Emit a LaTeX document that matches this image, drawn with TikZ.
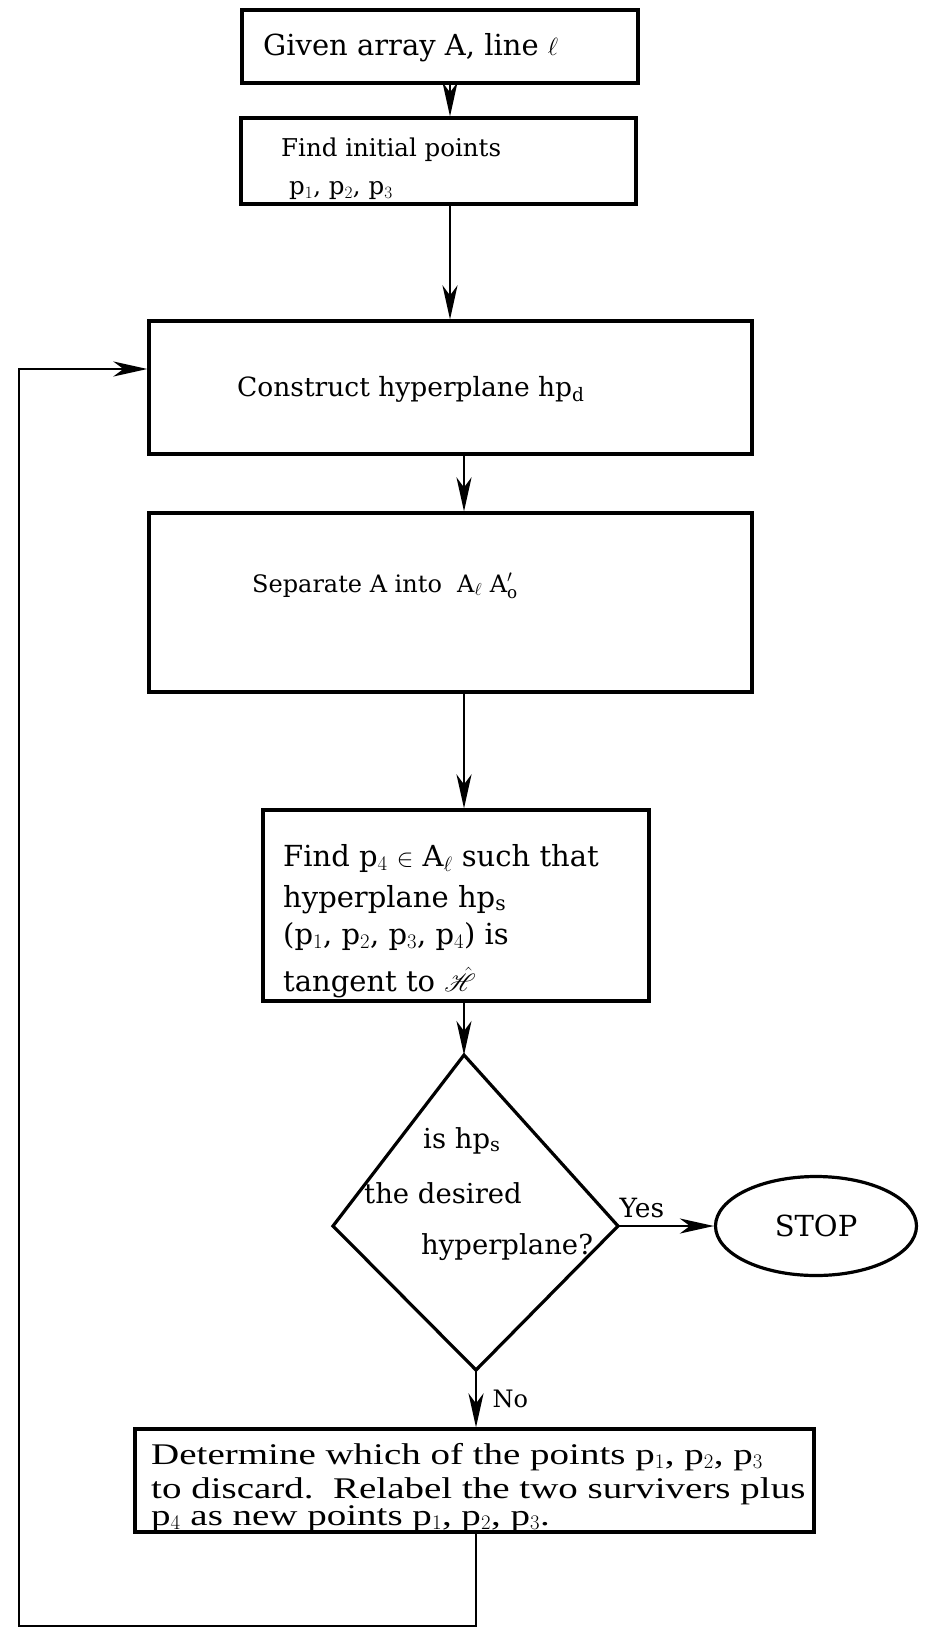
\documentclass[tikz,border=0pt]{standalone}
\usepackage{fontspec}
\setmainfont{DejaVu Serif}
\newfontfamily\timesfont[FakeStretch=1.3]{Liberation Serif}
\usepackage{mathrsfs}
\usetikzlibrary{arrows.meta,shapes.geometric}
\begin{document}
\begin{tikzpicture}[x=1pt,y=-1pt,
  box/.style={draw,line width=3.2pt,inner sep=0pt},
  txt/.style={anchor=base west,inner sep=0pt},
  ttxt/.style={anchor=base west,inner sep=0pt,font=\timesfont\fontsize{30}{34}\selectfont},
  flow/.style={line width=2.8pt,-{Stealth[length=34pt,width=15pt,inset=10pt]}},
  fa/.style={font=\fontsize{29}{33}\selectfont},
  fb/.style={font=\fontsize{24.5}{29}\selectfont},
  fc/.style={font=\fontsize{26.5}{31}\selectfont},
  fd/.style={font=\fontsize{24}{28}\selectfont},
  fe/.style={font=\fontsize{27.5}{32}\selectfont}]
\fill[white] (0,0) rectangle (929,1629);
\useasboundingbox (0,0) rectangle (929,1629);

% boxes
\node[box,minimum width=396pt,minimum height=73pt] (b1) at (440,46.5) {};
\node[box,minimum width=395pt,minimum height=86pt] (b2) at (438.5,161) {};
\node[box,minimum width=603pt,minimum height=133pt] (b3) at (450.5,387.5) {};
\node[box,minimum width=603pt,minimum height=179pt] (b4) at (450.5,602.5) {};
\node[box,minimum width=386pt,minimum height=191pt] (b5) at (456,905.5) {};
\node[draw,line width=3.2pt,shape=ellipse,inner sep=0pt,minimum width=201pt,minimum height=99pt,fa] (stop) at (816,1226) {STOP};
\node[box,minimum width=679pt,minimum height=103pt] (b6) at (474.5,1480.5) {};

% decision diamond
\coordinate (dtop) at (464,1055);
\coordinate (dleft) at (333,1226);
\coordinate (dright) at (618,1226);
\coordinate (dbot) at (476,1370);
\draw[line width=3.2pt,line join=miter] (dtop) -- (dright) -- (dbot) -- (dleft) -- cycle;

% texts
\node[txt,fa] (t1) at (263,56) {Given array A, line $\ell$};
\node[txt,fb] (t2a) at (281,157) {Find initial points};
\node[txt,fb] (t2b) at (289,195) {p$_1$, p$_2$, p$_3$};
\node[txt,fc] (t3) at (237,396) {Construct hyperplane hp$_{\mathrm{d}}$};
\node[txt,fd] (t4) at (252,592) {Separate A into\ \ A$_\ell$ A$'_{\mathrm{o}}$};
\node[txt,fa] (t5a) at (283,866) {Find p$_4$ $\in$ A$_\ell$ such that};
\node[txt,fa] (t5b) at (283,907) {hyperplane hp$_{\mathrm{s}}$};
\node[txt,fa] (t5c) at (283,944) {(p$_1$, p$_2$, p$_3$, p$_4$) is};
\node[txt,fa] (t5d) at (283,991) {tangent to $\hat{\mathscr{H}}$};
\node[txt,fe] (td1) at (423,1148) {is hp$_{\mathrm{s}}$};
\node[txt,fe] (td2) at (364,1203) {the desired};
\node[txt,fe] (td3) at (421,1254) {hyperplane?};
\node[ttxt] (t6a) at (151,1464) {Determine which of the points p$_1$, p$_2$, p$_3$};
\node[ttxt] (t6b) at (151,1498) {to discard.\ \ Relabel the two survivers plus};
\node[ttxt] (t6c) at (151,1525) {p$_4$ as new points p$_1$, p$_2$, p$_3$.};

% connectors
\coordinate (ax1) at (450,0);
\coordinate (ax2) at (464,0);
\draw[flow] (b1.south -| ax1) -- (b2.north -| ax1);
\draw[flow] (b2.south -| ax1) -- (b3.north -| ax1);
\draw[flow] (b3.south -| ax2) -- (b4.north -| ax2);
\draw[flow] (b4.south -| ax2) -- (b5.north -| ax2);
\draw[flow] (b5.south -| dtop) -- (dtop);
\draw[flow] (dright) -- node[above=3pt,pos=0.25,fc] (yes) {Yes} (stop.west);
\draw[flow] (dbot) -- node[right=12pt,fd] (no) {No} (dbot |- b6.north);
\coordinate (c1) at (476,1626);
\coordinate (c2) at (19,1626);
\coordinate (c3) at (19,369);
\draw[flow] (dbot |- b6.south) -- (c1) -- (c2) -- (c3) -- (c3 -| b3.west);
\end{tikzpicture}
\end{document}
